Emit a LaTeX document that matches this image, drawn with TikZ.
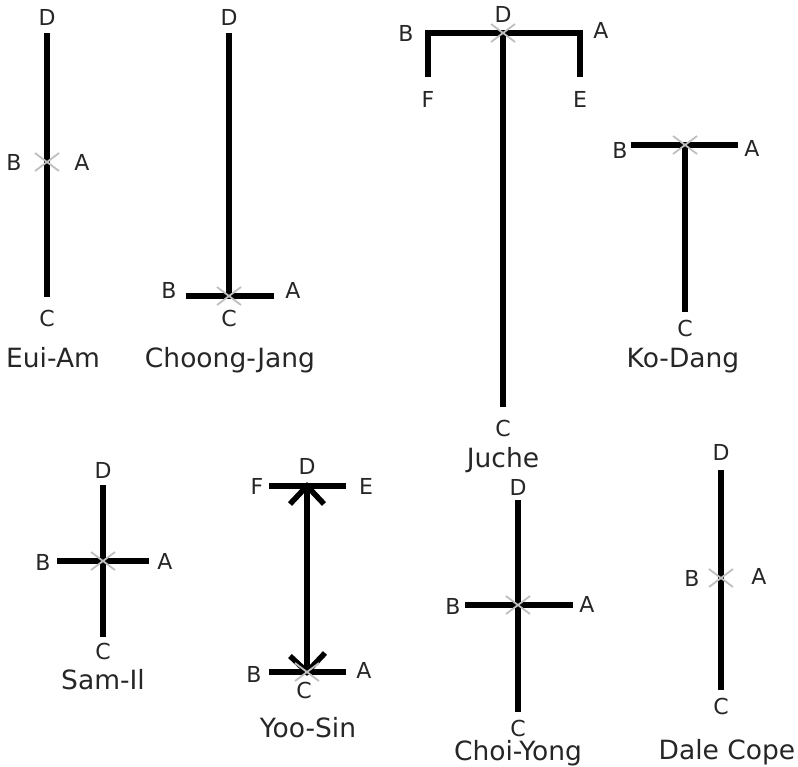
\documentclass[tikz,border=0pt]{standalone}
\usepackage{fontspec}
\setmainfont{DejaVu Sans}
\begin{document}
\begin{tikzpicture}[x=1pt,y=-1pt,
  stance/.style={line width=5.5pt,black},
  pointlbl/.style={font=\fontsize{22}{24}\selectfont,text=black!85,inner sep=0pt,anchor=center},
  titlelbl/.style={font=\fontsize{26.5}{30}\selectfont,text=black!85,inner sep=0pt,anchor=base},
  centremark/.style={line width=1.8pt,black!25},
  footx/.pic={\draw[centremark] (-12,-9) -- (12,9) (-12,9) -- (12,-9);}
]
\useasboundingbox (0,0) rectangle (798,766);

% ---------- Eui-Am ----------
\coordinate (ea-d) at (47,33); \coordinate (ea-c) at (47,297); \coordinate (ea-m) at (47,162);
\draw[stance] (ea-d) -- (ea-c);
\pic at (ea-m) {footx};
\node[pointlbl] (ea-D) at (47,17) {D};
\node[pointlbl] (ea-B) at (14,162) {B};
\node[pointlbl] (ea-A) at (82,162) {A};
\node[pointlbl] (ea-C) at (47,318) {C};
\node[titlelbl] (ea-t) at (53,367) {Eui-Am};

% ---------- Choong-Jang ----------
\coordinate (cj-d) at (229,33); \coordinate (cj-m) at (229,296);
\coordinate (cj-b) at (186,296); \coordinate (cj-a) at (274,296);
\draw[stance] (cj-d) -- (cj-m);
\draw[stance] (cj-b) -- (cj-a);
\pic at (cj-m) {footx};
\node[pointlbl] (cj-D) at (229,17) {D};
\node[pointlbl] (cj-B) at (169,290) {B};
\node[pointlbl] (cj-A) at (293,290) {A};
\node[pointlbl] (cj-C) at (229,318) {C};
\node[titlelbl] (cj-t) at (230,367) {Choong-Jang};

% ---------- Juche ----------
\coordinate (ju-m) at (503,33); \coordinate (ju-c) at (503,407);
\coordinate (ju-b) at (428,33); \coordinate (ju-f) at (428,77);
\coordinate (ju-a) at (580,33); \coordinate (ju-e) at (580,77);
\draw[stance] (ju-m) -- (ju-c);
\draw[stance,line join=miter] (ju-f) -- (ju-b) -- (ju-a) -- (ju-e);
\pic at (ju-m) {footx};
\node[pointlbl] (ju-D) at (503,14) {D};
\node[pointlbl] (ju-B) at (406,33) {B};
\node[pointlbl] (ju-A) at (601,30) {A};
\node[pointlbl] (ju-F) at (428,99) {F};
\node[pointlbl] (ju-E) at (580,99) {E};
\node[pointlbl] (ju-C) at (503,428) {C};
\node[titlelbl] (ju-t) at (503,467) {Juche};

% ---------- Ko-Dang ----------
\coordinate (kd-m) at (685,145); \coordinate (kd-c) at (685,312);
\coordinate (kd-b) at (631,145); \coordinate (kd-a) at (738,145);
\draw[stance] (kd-m) -- (kd-c);
\draw[stance] (kd-b) -- (kd-a);
\pic at (kd-m) {footx};
\node[pointlbl] (kd-B) at (620,150) {B};
\node[pointlbl] (kd-A) at (752,148) {A};
\node[pointlbl] (kd-C) at (685,328) {C};
\node[titlelbl] (kd-t) at (683,367) {Ko-Dang};

% ---------- Sam-Il ----------
\coordinate (si-d) at (103,485); \coordinate (si-c) at (103,637);
\coordinate (si-b) at (57,561); \coordinate (si-a) at (149,561);
\coordinate (si-m) at (103,561);
\draw[stance] (si-d) -- (si-c);
\draw[stance] (si-b) -- (si-a);
\pic at (si-m) {footx};
\node[pointlbl] (si-D) at (103,470) {D};
\node[pointlbl] (si-B) at (43,562) {B};
\node[pointlbl] (si-A) at (165,561) {A};
\node[pointlbl] (si-C) at (103,651) {C};
\node[titlelbl] (si-t) at (103,689) {Sam-Il};

% ---------- Yoo-Sin ----------
\coordinate (ys-d) at (307,486); \coordinate (ys-c) at (307,672);
\coordinate (ys-f) at (269,486); \coordinate (ys-e) at (346,486);
\coordinate (ys-b) at (269,672); \coordinate (ys-a) at (346,672);
\coordinate (ys-tl) at (290,504); \coordinate (ys-tr) at (324,504);
\coordinate (ys-bl) at (290,656); \coordinate (ys-br) at (325,653);
\draw[stance] (ys-d) -- (ys-c);
\draw[stance] (ys-f) -- (ys-e);
\draw[stance] (ys-b) -- (ys-a);
\draw[stance] (ys-tl) -- (ys-d) -- (ys-tr);
\draw[stance] (ys-bl) -- (ys-c) -- (ys-br);
\pic at (ys-c) {footx};
\node[pointlbl] (ys-D) at (307,466) {D};
\node[pointlbl] (ys-F) at (257,486) {F};
\node[pointlbl] (ys-E) at (366,486) {E};
\node[pointlbl] (ys-B) at (254,674) {B};
\node[pointlbl] (ys-A) at (364,670) {A};
\node[pointlbl] (ys-C) at (304,690) {C};
\node[titlelbl] (ys-t) at (308,737) {Yoo-Sin};

% ---------- Choi-Yong ----------
\coordinate (cy-d) at (518,500); \coordinate (cy-c) at (518,712);
\coordinate (cy-b) at (465,605); \coordinate (cy-a) at (573,605);
\coordinate (cy-m) at (518,605);
\draw[stance] (cy-d) -- (cy-c);
\draw[stance] (cy-b) -- (cy-a);
\pic at (cy-m) {footx};
\node[pointlbl] (cy-D) at (518,487) {D};
\node[pointlbl] (cy-B) at (453,606) {B};
\node[pointlbl] (cy-A) at (587,604) {A};
\node[pointlbl] (cy-C) at (518,728) {C};
\node[titlelbl] (cy-t) at (518,760) {Choi-Yong};

% ---------- Dale Cope ----------
\coordinate (dc-d) at (721,470); \coordinate (dc-c) at (721,690);
\coordinate (dc-m) at (721,578);
\draw[stance] (dc-d) -- (dc-c);
\pic at (dc-m) {footx};
\node[pointlbl] (dc-D) at (721,452) {D};
\node[pointlbl] (dc-B) at (692,578) {B};
\node[pointlbl] (dc-A) at (759,576) {A};
\node[pointlbl] (dc-C) at (721,706) {C};
\node[titlelbl] (dc-t) at (727,759) {Dale Cope};
\end{tikzpicture}
\end{document}
